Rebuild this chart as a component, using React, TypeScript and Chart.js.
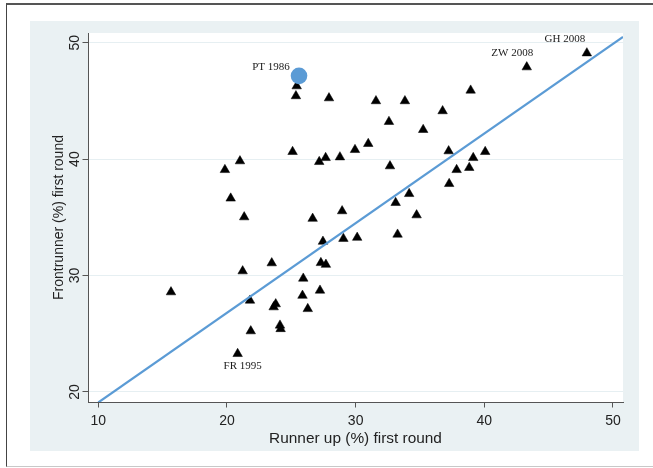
import React, { useEffect, useRef } from 'react';
import { Chart, registerables } from 'chart.js';

Chart.register(...registerables);

// ---- data ----
const runnerUp = [
  47.97, 43.3, 25.42, 25.36, 27.93, 31.58, 33.83, 38.94, 36.76, 32.59,
  35.25, 30.98, 29.95, 28.78, 27.67, 27.17, 25.1, 21.01, 19.84, 37.23,
  40.07, 39.14, 32.67, 37.85, 38.83, 20.29, 37.27, 34.16, 33.11, 21.34,
  26.66, 28.95, 34.74, 27.46, 29.05, 30.12, 33.26, 23.48, 27.3, 27.69,
  21.22, 25.93, 27.23, 25.87, 15.65, 21.79, 23.79, 23.63, 26.28, 24.12,
  24.17, 21.85, 20.83,
];
const frontrunner = [
  49.1, 47.9, 46.27, 45.42, 45.24, 44.99, 44.99, 45.9, 44.13, 43.21,
  42.52, 41.32, 40.8, 40.17, 40.11, 39.77, 40.63, 39.83, 39.08, 40.69,
  40.63, 40.11, 39.4, 39.08, 39.26, 36.63, 37.88, 37.02, 36.25, 35.02,
  34.89, 35.54, 35.19, 32.92, 33.17, 33.26, 33.53, 31.07, 31.09, 30.94,
  30.38, 29.75, 28.72, 28.28, 28.58, 27.86, 27.55, 27.29, 27.14, 25.72,
  25.42, 25.23, 23.28,
];
const highlightRunnerUp = [25.6];
const highlightFrontrunner = [47.15];
const fitRunnerUp = [10, 50.78];
const fitFrontrunner = [19.1, 50.5];
const xTicks = [10, 20, 30, 40, 50];
const yTicks = [20, 30, 40, 50];
const xTitle = 'Runner up (%) first round';
const yTitle = 'Frontrunner (%) first round';
const annotationNames = ['GH 2008', 'ZW 2008', 'PT 1986', 'FR 1995'];
const annotationX = [47.97, 43.3, 25.6, 20.83];
const annotationY = [49.1, 47.9, 47.15, 23.28];

// ---- styling ----
const annotationOffsets: [number, number][] = [
  [-22, -14],
  [-14.5, -14],
  [-28, -8.5],
  [5, 12.5],
];
const BLUE = '#5b9bd5';
const PANEL = '#eaf1f3';

const plotBg = {
  id: 'plotBg',
  beforeDraw(chart: any) {
    const { ctx, chartArea: a } = chart;
    ctx.save();
    ctx.fillStyle = '#ffffff';
    ctx.fillRect(a.left, a.top, a.right - a.left, a.bottom - a.top);
    ctx.restore();
  },
};

const labelPlugin = {
  id: 'pointLabels',
  afterDatasetsDraw(chart: any) {
    const { ctx, scales } = chart;
    ctx.save();
    ctx.font = '11px "Liberation Serif", "DejaVu Serif", serif';
    ctx.fillStyle = '#1a1a1a';
    ctx.textAlign = 'center';
    ctx.textBaseline = 'middle';
    annotationNames.forEach((t, i) => {
      const px = scales.x.getPixelForValue(annotationX[i]) + annotationOffsets[i][0];
      const py = scales.y.getPixelForValue(annotationY[i]) + annotationOffsets[i][1];
      ctx.fillText(t, px, py);
    });
    ctx.restore();
  },
};

export default function App() {
  const ref = useRef<HTMLCanvasElement | null>(null);

  useEffect(() => {
    if (!ref.current) return;
    Chart.defaults.font.family = '"Liberation Sans", Arial, sans-serif';
    const chart = new Chart(ref.current, {
      type: 'scatter',
      data: {
        datasets: [
          {
            label: 'PT 1986',
            data: highlightRunnerUp.map((x, i) => ({ x, y: highlightFrontrunner[i] })),
            pointStyle: 'circle',
            pointRadius: 8.3,
            backgroundColor: BLUE,
            borderColor: BLUE,
            borderWidth: 0,
          },
          {
            label: 'Fit',
            data: fitRunnerUp.map((x, i) => ({ x, y: fitFrontrunner[i] })),
            showLine: true,
            pointRadius: 0,
            borderColor: BLUE,
            borderWidth: 2.2,
            backgroundColor: BLUE,
          },
          {
            label: 'Elections',
            data: runnerUp.map((x, i) => ({ x, y: frontrunner[i] })),
            pointStyle: 'triangle',
            pointRadius: 5.5,
            backgroundColor: '#000',
            borderColor: '#000',
            borderWidth: 0.5,
          },
        ],
      },
      options: {
        animation: false,
        responsive: false,
        layout: { padding: { left: 0, top: 12, right: 16, bottom: 0 } },
        plugins: { legend: { display: false }, tooltip: { enabled: false } },
        scales: {
          x: {
            type: 'linear',
            min: 9.2,
            max: 50.78,
            afterBuildTicks: (s: any) => {
              s.ticks = xTicks.map((v) => ({ value: v }));
            },
            afterFit: (s: any) => {
              s.height = 49;
            },
            ticks: { color: '#222', font: { size: 14 }, padding: 5, maxRotation: 0 },
            grid: { drawOnChartArea: false, tickLength: 5.5, tickColor: '#555' },
            border: { color: '#555', width: 1 },
            title: {
              display: true,
              text: xTitle,
              color: '#222',
              font: { size: 15.4 },
              padding: { top: 0, bottom: 2.8 },
            },
          },
          y: {
            type: 'linear',
            min: 19.14,
            max: 50.83,
            afterBuildTicks: (s: any) => {
              s.ticks = yTicks.map((v) => ({ value: v }));
            },
            afterFit: (s: any) => {
              s.width = 58;
            },
            ticks: {
              color: '#222',
              font: { size: 14 },
              minRotation: 90,
              maxRotation: 90,
              crossAlign: 'center',
              padding: 0,
            },
            grid: { color: '#e6eff2', tickLength: 5.5, tickColor: '#555' },
            border: { color: '#555', width: 1 },
            title: {
              display: true,
              text: yTitle,
              color: '#222',
              font: { size: 14 },
              padding: { top: 21, bottom: 0 },
            },
          },
        },
      },
      plugins: [plotBg, labelPlugin],
    });
    return () => chart.destroy();
  }, []);

  return (
    <div
      style={{
        position: 'absolute',
        left: 0,
        top: 0,
        width: 653,
        height: 468,
        overflow: 'hidden',
        background: '#fff',
      }}
    >
      <div
        style={{
          position: 'absolute',
          left: 6,
          top: 3,
          width: 720,
          height: 464,
          borderTop: '2px solid #555',
          borderLeft: '1.5px solid #444',
          borderBottom: '1px solid #c8c8c8',
          boxSizing: 'border-box',
        }}
      />
      <canvas
        ref={ref}
        width={609}
        height={430}
        style={{ position: 'absolute', left: 30, top: 21, width: 609, height: 430, background: PANEL }}
      />
    </div>
  );
}
